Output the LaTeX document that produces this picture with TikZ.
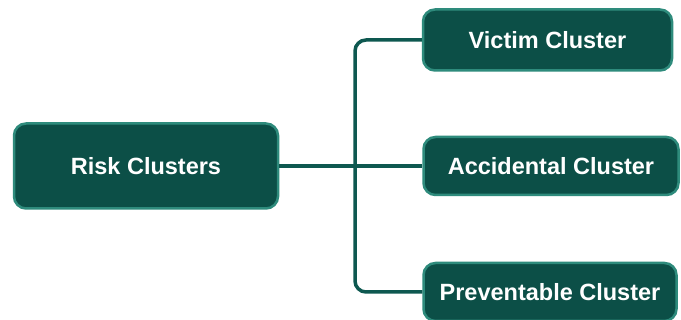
\documentclass[tikz,border=0pt]{standalone}
\usepackage{fontspec}
\setmainfont{Liberation Sans}
\definecolor{boxfill}{HTML}{0C4F47}
\definecolor{boxedge}{HTML}{2E8B7C}
\definecolor{linec}{HTML}{0E5850}
\begin{document}
\begin{tikzpicture}[x=1pt,y=1pt,
  cbox/.style={draw=boxedge, fill=boxfill, line width=2.5pt, rounded corners=12pt,
    text=white, font=\fontsize{23.5}{27}\selectfont\bfseries, inner sep=0pt, anchor=center},
  conn/.style={draw=linec, line width=3.5pt}]
\useasboundingbox (0,0) rectangle (681,320);
\fill[white] (0,0) rectangle (681,320);
\node[cbox, minimum width=264pt, minimum height=85pt] (risk) at (146,154) {Risk Clusters};
\node[cbox, minimum width=249pt, minimum height=61pt] (victim) at (547.5,280) {Victim Cluster};
\node[cbox, minimum width=255pt, minimum height=58pt] (acc) at (551,154) {Accidental Cluster};
\node[cbox, minimum width=253pt, minimum height=58pt] (prev) at (550,28) {Preventable Cluster};
\coordinate (tk) at (355,0);
\draw[conn] (risk.east) -- (acc.west);
\draw[conn, rounded corners=11pt] (victim.west) -| (tk |- prev.west) -- (prev.west);
\end{tikzpicture}
\end{document}
